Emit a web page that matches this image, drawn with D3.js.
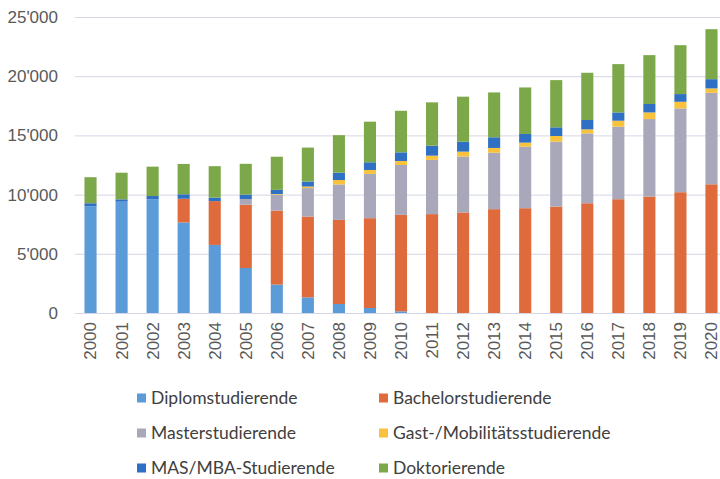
<!DOCTYPE html>
<html lang="de">
<head>
<meta charset="utf-8">
<title>Studierende 2000-2020</title>
<script src="https://cdn.jsdelivr.net/npm/d3@7"></script>
<style>
  body { margin: 0; background: #fff; }
  svg { display: block; font-family: Lato, "Noto Sans", sans-serif; }
  .tick text { fill: #595959; }
</style>
</head>
<body>
<script>
// values (students per year)
var years    = ["2000","2001","2002","2003","2004","2005","2006","2007","2008","2009","2010",
                "2011","2012","2013","2014","2015","2016","2017","2018","2019","2020"];
var diplom   = [9000, 9400, 9600, 7650, 5750, 3800, 2400, 1320, 760, 420, 140, 0, 0, 0, 0, 0, 0, 0, 0, 0, 0];
var bachelor = [0, 0, 0, 2000, 3700, 5350, 6250, 6830, 7100, 7590, 8150, 8350, 8490, 8770, 8850, 8990, 9270, 9610, 9840, 10200, 10870];
var master   = [0, 0, 0, 0, 0, 480, 1350, 2400, 3000, 3740, 4210, 4580, 4720, 4770, 5200, 5480, 5900, 6130, 6540, 7080, 7730];
var gast     = [0, 0, 0, 0, 0, 0, 50, 130, 370, 330, 340, 360, 420, 400, 340, 480, 340, 500, 560, 560, 370];
var mas      = [270, 200, 280, 380, 300, 370, 350, 420, 620, 650, 730, 840, 840, 900, 730, 730, 790, 700, 710, 650, 780];
var doktor   = [2200, 2250, 2480, 2560, 2650, 2600, 2800, 2870, 3170, 3430, 3510, 3660, 3800, 3790, 3930, 3990, 3990, 4080, 4130, 4130, 4220];
var yTicks   = [0, 5000, 10000, 15000, 20000, 25000];

var seriesNames  = ["Diplomstudierende", "Bachelorstudierende", "Masterstudierende",
                    "Gast-/Mobilitätsstudierende", "MAS/MBA-Studierende", "Doktorierende"];
var seriesValues = [diplom, bachelor, master, gast, mas, doktor];
var colors = ["#5b9bd8", "#df6a3b", "#a8a8ba", "#f8c23c", "#2f6fc4", "#7ca849"];

var svgW = 720, svgH = 479;
var plotL = 75, plotR = 727, plotT = 17, plotB = 313;

var table = years.map(function(y, i) {
  var row = { year: y };
  seriesNames.forEach(function(n, k) { row[n] = seriesValues[k][i]; });
  return row;
});

var svg = d3.select("body").append("svg")
  .attr("width", svgW)
  .attr("height", svgH);

var x = d3.scaleBand().domain(years).range([plotL, plotR])
  .paddingInner(0.61).paddingOuter(0.305);
var y = d3.scaleLinear().domain([0, 25000]).range([plotB, plotT]);

// y axis + gridlines
var yAxis = svg.append("g")
  .attr("transform", "translate(" + plotL + ",0)")
  .call(d3.axisLeft(y).tickValues(yTicks)
    .tickSize(-(svgW - plotL))
    .tickPadding(17)
    .tickFormat(function(d) { return d3.format(",")(d).replace(/,/g, "'"); }));
yAxis.select(".domain").remove();
yAxis.selectAll(".tick line").attr("stroke", "#d6d6e6").attr("stroke-width", 1);
yAxis.selectAll(".tick text").attr("font-size", 17);

// bars
var stack = d3.stack().keys(seriesNames)(table);
svg.append("g").selectAll("g")
  .data(stack)
  .join("g")
  .attr("fill", function(d, i) { return colors[i]; })
  .selectAll("rect")
  .data(function(d) { return d; })
  .join("rect")
  .attr("x", function(d) { return x(d.data.year); })
  .attr("y", function(d) { return y(d[1]); })
  .attr("width", x.bandwidth())
  .attr("height", function(d) { return y(d[0]) - y(d[1]); });

// x axis (rotated years)
var xAxis = svg.append("g")
  .attr("transform", "translate(0," + plotB + ")")
  .call(d3.axisBottom(x).tickSize(0).tickPadding(0));
xAxis.select(".domain").remove();
xAxis.selectAll(".tick text")
  .attr("font-size", 17)
  .attr("transform", "rotate(-90)")
  .attr("text-anchor", "end")
  .attr("x", -9)
  .attr("y", 0)
  .attr("dy", "0.35em");

// legend, two columns
var legend = svg.append("g").selectAll("g")
  .data(seriesNames)
  .join("g")
  .attr("transform", function(d, i) {
    return "translate(" + (i % 2 === 0 ? 137 : 379) + "," + (398 + Math.floor(i / 2) * 35) + ")";
  });
legend.append("rect")
  .attr("x", 0).attr("y", -4.5)
  .attr("width", 9).attr("height", 9)
  .attr("fill", function(d, i) { return colors[i]; });
legend.append("text")
  .attr("x", 14).attr("dy", "0.35em")
  .attr("font-size", 17.5)
  .attr("fill", "#404040")
  .text(function(d) { return d; });
</script>
</body>
</html>
